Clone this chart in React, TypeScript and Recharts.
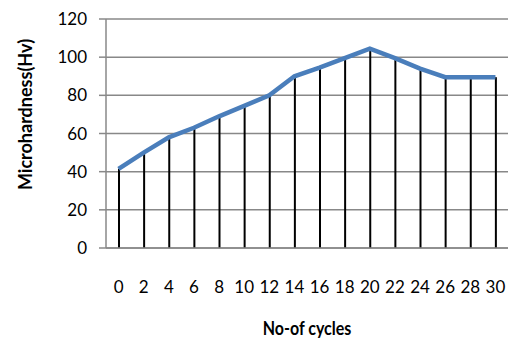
import React from 'react';
import { ComposedChart, Line, Bar, XAxis, YAxis, CartesianGrid, Label } from 'recharts';

const cycles = ['0', '2', '4', '6', '8', '10', '12', '14', '16', '18', '20', '22', '24', '26', '28', '30'];
const hardness = [41.5, 50, 58, 63, 69, 74.5, 80, 90, 94.5, 99.5, 104.5, 99.5, 94, 89.5, 89.5, 89.5];
const yTicks = [0, 20, 40, 60, 80, 100, 120];

const data = cycles.map((c, i) => ({ c, v: hardness[i] }));

const FONT = 'Lato, "Open Sans", sans-serif';

export default function App() {
  return (
    <div style={{ position: 'absolute', left: 0, top: 0 }}>
      <ComposedChart width={511} height={338} data={data} margin={{ top: 19, right: 3, left: 0, bottom: 0 }}>
        <CartesianGrid vertical={false} stroke="#888" strokeWidth={1.5} />
        <XAxis
          dataKey="c"
          height={90}
          tickLine={false}
          tickSize={0}
          tickMargin={33}
          stroke="#888"
          strokeWidth={1.5}
          tick={{ fill: '#000', fontSize: 17, fontFamily: FONT }}
          interval={0}
        >
          <Label
            content={({ viewBox }: any) => {
              const cx = viewBox.x + viewBox.width / 2;
              return (
                <text x={0} y={0} transform={`translate(${cx} 335) scale(1 1.2)`} textAnchor="middle" fontFamily={FONT} fontWeight="bold" fontSize={16} fill="#000">
                  No-of cycles
                </text>
              );
            }}
          />
        </XAxis>
        <YAxis
          width={106}
          domain={[0, 120]}
          ticks={yTicks}
          tickSize={7}
          tickMargin={12}
          stroke="#888"
          strokeWidth={1.5}
          tick={{ fill: '#000', fontSize: 17, fontFamily: FONT }}
        >
          <Label
            content={({ viewBox }: any) => {
              const cy = viewBox.y + viewBox.height / 2 - 19;
              return (
                <text x={32} y={cy} transform={`rotate(-90 32 ${cy})`} textAnchor="middle" fontFamily={FONT} fontWeight="bold" fontSize={18} fill="#000">
                  Microhardness(Hv)
                </text>
              );
            }}
          />
        </YAxis>
        <Bar dataKey="v" barSize={2} fill="#000" isAnimationActive={false} />
        <Line dataKey="v" stroke="#4a7ebb" strokeWidth={4.5} dot={false} isAnimationActive={false} />
      </ComposedChart>
    </div>
  );
}
